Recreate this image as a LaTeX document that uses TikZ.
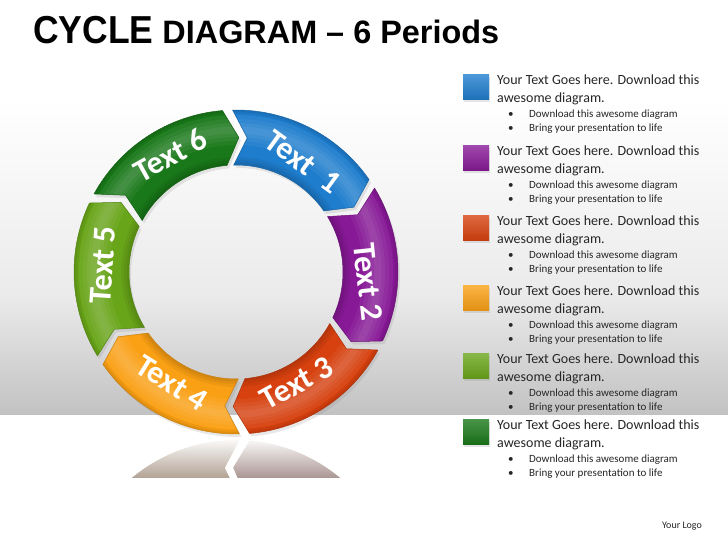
\documentclass[tikz,border=0pt]{standalone}
\usepackage{fontspec}
\setmainfont{Carlito}
\newfontfamily\titlefont{Liberation Sans}
\usetikzlibrary{shadows,fadings}
\definecolor{cblue}{RGB}{30,125,205}
\definecolor{cpurple}{RGB}{135,25,150}
\definecolor{cred}{RGB}{215,65,15}
\definecolor{corange}{RGB}{250,160,20}
\definecolor{clgreen}{RGB}{105,165,25}
\definecolor{cdgreen}{RGB}{25,120,25}
\definecolor{reflA}{RGB}{178,162,148}
\definecolor{reflB}{RGB}{170,150,146}
\def\Ro{162pt}
\def\Ri{107pt}
\def\Rm{134.5pt}
\def\dd{3}
\def\gg{1.8}
\newcommand\segpath[2]{({#1+\dd-\gg}:\Ro) arc[start angle={#1+\dd-\gg}, end angle={#2+\dd+\gg}, radius=\Ro] -- ({#2-\dd+\gg}:\Rm) -- ({#2+\dd+\gg}:\Ri) arc[start angle={#2+\dd+\gg}, end angle={#1+\dd-\gg}, radius=\Ri] -- ({#1-\dd-\gg}:\Rm) -- cycle}
\begin{document}
\begin{tikzpicture}[x=1pt,y=1pt,
  segtext/.style={text=white, font=\bfseries\fontsize{32}{32}\selectfont, inner sep=0pt},
  legtitle/.style={anchor=base west, font=\fontsize{14}{14}\selectfont, text=black!85, inner sep=0pt},
  legbul/.style={anchor=base west, font=\fontsize{11}{11}\selectfont, text=black!85, inner sep=0pt},
  sqbox/.style={minimum width=26pt, minimum height=25pt, inner sep=0pt, draw=none}]
\useasboundingbox (0,0) rectangle (728,546);
% background
\fill[white] (0,0) rectangle (728,546);
\shade[top color=white, bottom color=black!8] (0,250) rectangle (728,446);
\shade[top color=black!8, bottom color=black!24] (0,131) rectangle (728,250.5);
% title
\node[anchor=base west, inner sep=0pt, font=\titlefont\bfseries] (title) at (33,502)
  {\scalebox{0.91}[1]{\fontsize{39}{39}\selectfont CYCLE}\hspace{9pt}{\fontsize{32.4}{32.4}\selectfont DIAGRAM – 6 Periods}};
% reflection
\begin{scope}
  \clip (100,64) rectangle (380,109);
  \begin{scope}[yshift=218pt, yscale=-1, shift={(236,274)}]
    \begin{scope}
      \clip \segpath{-90}{-150};
      \shade[bottom color=reflA, top color=white] (-200,109-274) rectangle (200,150-274);
    \end{scope}
    \begin{scope}
      \clip \segpath{-30}{-90};
      \shade[bottom color=reflB, top color=white] (-200,109-274) rectangle (200,150-274);
    \end{scope}
  \end{scope}
\end{scope}
% cycle
\begin{scope}[shift={(236,274)}]
  \foreach \T/\H/\col in {90/30/cblue, 30/-30/cpurple, -30/-90/cred, -90/-150/corange, 210/150/clgreen, 150/90/cdgreen}{
    \fill[\col, drop shadow={opacity=0.18, shadow xshift=2pt, shadow yshift=-3pt}] \segpath{\T}{\H};
    \begin{scope}
      \clip \segpath{\T}{\H};
      \foreach \w in {30,22,14,7}{
        \draw[white, opacity=0.05, line width=\w pt] (0,0) circle (142pt);
      }
      \foreach \w in {16,10,5}{
        \draw[black, opacity=0.05, line width=\w pt] (0,0) circle (107pt);
      }
      \foreach \w in {8,4}{
        \draw[black, opacity=0.05, line width=\w pt] (0,0) circle (162pt);
      }
    \end{scope}
    \draw[\col!80!black, line width=0.5pt] \segpath{\T}{\H};
  }
\end{scope}
\node[segtext, rotate=-36] (t1) at (303,384) {Text\hspace{0.45em}1};
\node[segtext, rotate=-84] (t2) at (368,264) {Text 2};
\node[segtext, rotate=29] (t3) at (297,163) {Text 3};
\node[segtext, rotate=-32] (t4) at (172,163) {Text 4};
\node[segtext, rotate=86] (t5) at (103,281) {Text 5};
\node[segtext, rotate=29] (t6) at (170,391) {Text 6};
% legend
\foreach \yb/\col [count=\i] in {461/cblue, 390/cpurple, 320/cred, 250/corange, 182/clgreen, 116/cdgreen}{
  \node[sqbox, top color=\col!80!white, bottom color=\col!90!black,
        drop shadow={opacity=0.2, shadow xshift=1pt, shadow yshift=-2pt}] (s\i) at (476,\yb-2.5) {};
  \node[legtitle] (h\i) at (497,\yb) {Your Text Goes here. Download this};
  \node[legtitle] (a\i) at (497,\yb-18) {awesome diagram.};
  \node[legbul] (bd\i) at (508,\yb-33) {•};
  \node[legbul] (b\i) at (529,\yb-33) {Download this awesome diagram};
  \node[legbul] (ce\i) at (508,\yb-47) {•};
  \node[legbul] (c\i) at (529,\yb-47) {Bring your presentation to life};
}
\node[font=\fontsize{10}{10}\selectfont, text=black!85, inner sep=0pt] (logo) at (682,20) {Your Logo};
\end{tikzpicture}
\end{document}
